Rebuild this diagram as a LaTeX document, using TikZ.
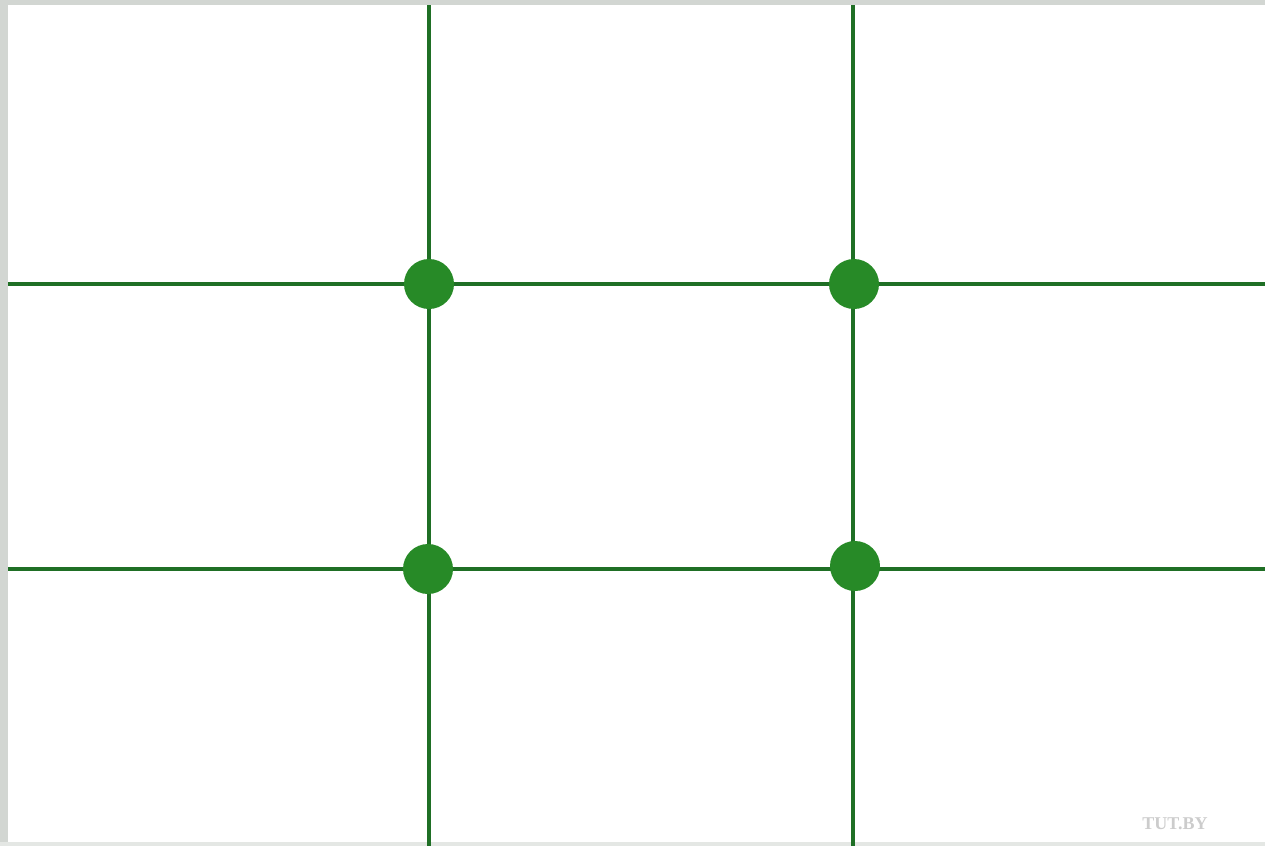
\documentclass[tikz,border=0pt]{standalone}
\usepackage{fontspec}
\setmainfont{Liberation Serif}
\begin{document}
\begin{tikzpicture}[x=0.5pt,y=-0.5pt,
  gridline/.style={draw=gline,line width=1.6pt},
  dot/.style={circle,fill=gdot,minimum size=25pt,inner sep=0pt}]
\definecolor{gline}{HTML}{1F6F25}
\definecolor{gdot}{HTML}{278A27}
\definecolor{frame}{HTML}{D2D6D2}
\useasboundingbox (0,0) rectangle (1265,846);
\fill[white] (0,0) rectangle (1265,846);
\fill[frame] (0,0) rectangle (8,846);
\fill[frame] (0,0) rectangle (1265,5);
\fill[frame!60] (0,842) rectangle (1265,846);
% edge coordinates
\coordinate (t1) at (429,5);
\coordinate (b1) at (429,846);
\coordinate (t2) at (853,5);
\coordinate (b2) at (853,846);
\coordinate (l1) at (8,284);
\coordinate (r1) at (1265,284);
\coordinate (l2) at (8,569);
\coordinate (r2) at (1265,569);
\draw[gridline] (t1) -- (b1);
\draw[gridline] (t2) -- (b2);
\draw[gridline] (l1) -- (r1);
\draw[gridline] (l2) -- (r2);
\node[dot] (d11) at (429,284) {};
\node[dot] (d12) at (854,284) {};
\node[dot] (d21) at (428,569) {};
\node[dot] (d22) at (855,566) {};
\node[text=black!20,font=\small\bfseries] (wm) at (1175,824) {TUT.BY};
\end{tikzpicture}
\end{document}
